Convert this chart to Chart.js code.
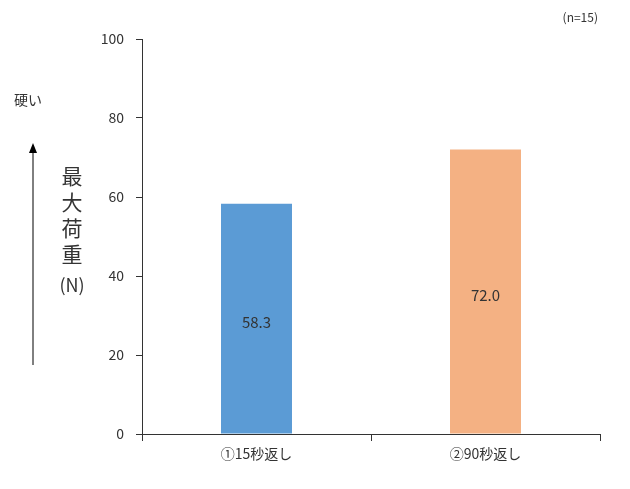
<!DOCTYPE html>
<html>
<head>
<meta charset="utf-8">
<script src="https://cdn.jsdelivr.net/npm/chart.js@4/dist/chart.umd.min.js"></script>
<style>
  body { margin: 0; background: #fff; }
  #wrap { width: 630px; height: 489px; }
</style>
</head>
<body>
<div id="wrap"><canvas id="chart"></canvas></div>
<script>
const categories = ["①15秒返し", "②90秒返し"];
const values = [58.3, 72.0];
const barColors = ["#5b9bd5", "#f4b183"];
const yTicks = [0, 20, 40, 60, 80, 100];

const FONT = "'Noto Sans CJK JP', 'Noto Sans', sans-serif";

// labels inside bars + left side annotations
const extras = {
    id: "extras",
    afterDatasetsDraw(chart) {
        const ctx = chart.ctx;
        const meta = chart.getDatasetMeta(0);
        ctx.save();
        ctx.fillStyle = "#333";
        ctx.font = "15px " + FONT;
        ctx.textAlign = "center";
        ctx.textBaseline = "middle";
        meta.data.forEach((bar, i) => {
            ctx.fillText(values[i].toFixed(1), bar.x, (bar.y + bar.base) / 2 + 4);
        });

        // n label
        ctx.font = "12px " + FONT;
        ctx.textAlign = "right";
        ctx.fillText("(n=15)", 598, 17);

        // left annotations
        ctx.font = "14px " + FONT;
        ctx.textAlign = "left";
        ctx.fillText("硬い", 14, 100);

        ctx.strokeStyle = "#000";
        ctx.lineWidth = 1;
        ctx.beginPath();
        ctx.moveTo(33, 365);
        ctx.lineTo(33, 150);
        ctx.stroke();
        ctx.fillStyle = "#000";
        ctx.beginPath();
        ctx.moveTo(33, 143);
        ctx.lineTo(29, 153);
        ctx.lineTo(37, 153);
        ctx.closePath();
        ctx.fill();

        ctx.fillStyle = "#333";
        ctx.font = "21px " + FONT;
        ctx.textAlign = "center";
        ["最", "大", "荷", "重"].forEach((ch, i) => ctx.fillText(ch, 72, 176 + i * 26));
        ctx.font = "18px " + FONT;
        ctx.fillText("(N)", 72, 285);
        ctx.restore();
    }
};

new Chart(document.getElementById("chart"), {
    type: "bar",
    data: {
        labels: categories,
        datasets: [{
            data: values,
            backgroundColor: barColors,
            barPercentage: 0.31,
            categoryPercentage: 1
        }]
    },
    options: {
        responsive: true,
        maintainAspectRatio: false,
        animation: false,
        layout: { padding: { left: 80, top: 39, right: 30, bottom: 0 } },
        plugins: { legend: { display: false }, tooltip: { enabled: false } },
        scales: {
            x: {
                afterFit: s => { s.height = 55; },
                grid: { drawOnChartArea: false, color: "#333", tickLength: 7, offset: true },
                border: { color: "#333" },
                ticks: { color: "#333", font: { size: 14, family: FONT }, padding: 4 }
            },
            y: {
                min: 0,
                max: 100,
                afterFit: s => { s.width = 62; },
                afterBuildTicks: s => { s.ticks = yTicks.map(v => ({ value: v })); },
                grid: { drawOnChartArea: false, color: "#333", tickLength: 6 },
                border: { color: "#333" },
                ticks: { color: "#333", font: { size: 14, family: FONT }, padding: 12 }
            }
        }
    },
    plugins: [extras]
});
</script>
</body>
</html>
